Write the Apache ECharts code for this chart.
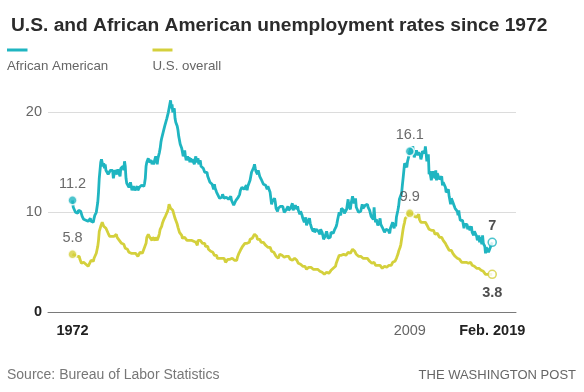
<!DOCTYPE html>
<html>
<head>
<meta charset="utf-8">
<script src="https://cdn.jsdelivr.net/npm/echarts@6/dist/echarts.min.js"></script>
<style>
html,body{margin:0;padding:0;background:#fff;}
#chart{width:584px;height:392px;}
</style>
</head>
<body>
<div id="chart"></div>
<script>
// Monthly unemployment rates, Jan 1972 .. Feb 2019 (index 0 = Jan 1972)
const africanAmerican = [
11.2,10.5,10.6,10.4,10.0,9.8,10.1,9.9,10.2,10.0,10.3,10.1, // 1972
10.2,9.6,9.4,9.3,9.4,9.1,9.2,9.0,9.3,9.1,9.0,9.2, // 1973
9.4,9.1,9.2,9.3,9.0,9.4,9.7,9.6,10.0,10.2,11.0,12.0, // 1974
13.4,14.2,15.0,15.3,15.1,14.6,14.9,14.4,14.8,14.2,14.4,14.0, // 1975
13.8,14.0,13.6,14.2,14.0,14.4,14.2,13.4,13.8,14.2,14.0,14.4, // 1976
13.8,14.3,14.0,14.1,13.6,14.4,14.6,14.3,14.6,14.2,15.1,14.6, // 1977
13.4,12.9,12.8,12.9,12.5,12.4,13.0,12.6,12.2,12.4,12.6,12.5, // 1978
12.2,12.4,12.3,12.6,12.2,12.0,12.5,12.6,12.4,12.7,12.6,12.8, // 1979
12.6,12.9,13.4,14.6,15.0,15.2,15.4,15.0,14.8,15.0,15.2,14.8, // 1980
15.1,14.8,15.0,14.9,15.6,15.2,14.8,15.4,15.6,16.0,16.4,17.0, // 1981
17.4,17.6,18.0,18.2,18.6,18.8,18.8,19.4,19.6,20.0,20.4,20.6, // 1982
21.2,20.4,20.8,20.0,20.2,20.4,19.4,19.0,19.2,18.6,18.2,17.6, // 1983
17.2,16.8,16.6,16.4,16.0,15.6,15.9,16.2,15.6,15.2,15.4,15.6, // 1984
15.2,15.5,15.0,15.4,15.0,15.3,15.1,15.4,14.8,15.3,15.6,15.0, // 1985
14.8,15.4,14.8,15.0,15.2,14.6,14.5,14.6,14.4,14.2,14.0,14.2, // 1986
13.8,14.0,13.6,13.5,13.7,13.0,12.9,13.2,12.8,12.6,12.3,12.8, // 1987
12.4,12.2,12.0,12.1,11.7,11.9,11.4,11.6,11.3,11.5,11.8,11.6, // 1988
11.4,11.2,11.3,11.5,11.4,11.6,11.3,11.1,11.5,11.6,11.2,11.4, // 1989
11.0,10.7,10.5,10.8,11.2,11.0,11.1,11.5,11.6,11.8,12.2,12.2, // 1990
12.5,12.3,12.6,12.3,12.5,12.4,12.7,12.2,12.6,12.4,12.8,13.2, // 1991
13.6,14.0,13.8,13.9,14.5,14.8,14.4,14.1,14.3,13.8,14.2,14.0, // 1992
13.6,13.4,13.3,13.2,13.4,12.8,13.0,12.6,12.7,12.5,12.3,12.6, // 1993
12.5,12.4,12.0,11.4,10.8,11.1,11.3,11.2,11.4,11.0,10.4,10.3, // 1994
10.1,10.4,10.5,10.2,10.6,10.5,10.4,10.6,10.7,10.0,9.8,9.9, // 1995
10.3,10.4,10.6,10.2,10.1,10.3,10.5,10.7,10.9,10.2,10.4,10.3, // 1996
10.7,10.5,10.3,10.6,10.2,10.4,9.8,10.1,10.0,9.7,9.4,9.5, // 1997
9.0,8.9,9.5,8.7,8.9,9.1,9.0,9.4,8.9,8.7,8.4,8.3, // 1998
8.1,8.4,8.0,8.1,8.3,8.1,8.2,8.1,7.9,7.8,8.3,8.2, // 1999
8.0,7.7,7.3,7.1,7.6,7.7,8.1,7.8,7.4,7.3,7.2,7.5, // 2000
8.0,7.8,8.2,7.9,7.9,8.3,8.3,8.6,8.9,9.3,9.5,10.0, // 2001
9.8,9.7,10.4,10.6,10.3,10.2,9.9,9.8,10.1,10.3,10.8,11.3, // 2002
10.6,10.4,10.3,10.9,10.8,11.6,11.2,10.9,11.1,11.4,10.5,10.3, // 2003
10.6,10.0,10.2,9.9,10.1,10.3,10.8,10.4,10.3,10.6,10.7,10.6, // 2004
10.6,10.8,10.5,10.4,10.2,10.3,9.6,9.6,9.5,9.3,10.5,9.4, // 2005
9.0,9.3,9.2,8.7,8.9,9.0,9.4,8.8,8.9,8.5,8.7,8.5, // 2006
8.0,8.2,8.3,8.4,8.3,8.2,8.1,7.9,8.4,8.6,8.5,9.0, // 2007
9.1,8.4,8.9,8.6,9.5,9.4,10.2,10.6,11.3,11.1,11.3,11.9, // 2008
12.7,13.4,13.4,14.9,14.9,14.7,14.5,15.1,15.4,15.7,16.1,16.2, // 2009
16.5,15.8,16.6,16.5,15.5,15.4,15.6,16.2,16.1,15.7,16.0,15.8, // 2010
15.7,15.3,15.6,16.1,16.2,16.2,15.9,16.6,15.9,15.1,15.5,15.8, // 2011
13.8,14.1,14.0,13.2,13.6,14.1,14.1,14.0,13.4,14.2,13.2,13.9, // 2012
13.8,13.7,13.3,13.2,13.5,13.6,12.7,13.0,13.1,13.0,12.5,12.0, // 2013
12.1,12.0,12.3,11.6,11.5,10.8,11.4,11.3,11.0,10.9,11.0,10.4, // 2014
10.3,10.4,10.1,9.7,10.2,9.6,9.2,9.4,9.2,9.2,9.3,8.4, // 2015
8.8,8.8,9.0,8.8,8.3,8.6,8.4,8.2,8.3,8.6,8.0,7.9, // 2016
7.7,8.1,8.0,7.9,7.6,7.2,7.4,7.7,7.0,7.5,7.3,6.8, // 2017
7.7,6.9,6.9,6.6,5.9,6.5,6.6,6.3,6.0,6.2,6.2,6.6, // 2018
6.8,7.0 // 2019
];
const usOverall = [
5.8,5.7,5.8,5.7,5.7,5.7,5.6,5.6,5.5,5.6,5.3,5.2, // 1972
4.9,5.0,4.9,5.0,4.9,4.9,4.8,4.8,4.8,4.6,4.8,4.9, // 1973
5.1,5.2,5.1,5.1,5.1,5.4,5.5,5.5,5.9,6.0,6.6,7.2, // 1974
8.1,8.1,8.6,8.8,9.0,8.8,8.6,8.4,8.4,8.4,8.3,8.2, // 1975
7.9,7.7,7.6,7.7,7.4,7.6,7.8,7.8,7.6,7.7,7.8,7.8, // 1976
7.5,7.6,7.4,7.2,7.0,7.2,6.9,7.0,6.8,6.8,6.8,6.4, // 1977
6.4,6.3,6.3,6.1,6.0,5.9,6.2,5.9,6.0,5.8,5.9,6.0, // 1978
5.9,5.9,5.8,5.8,5.6,5.7,5.7,6.0,5.9,6.0,5.9,6.0, // 1979
6.3,6.3,6.3,6.9,7.5,7.6,7.8,7.7,7.5,7.5,7.5,7.2, // 1980
7.5,7.4,7.4,7.2,7.5,7.5,7.2,7.4,7.6,7.9,8.3,8.5, // 1981
8.6,8.9,9.0,9.3,9.4,9.6,9.8,9.8,10.1,10.4,10.8,10.8, // 1982
10.4,10.4,10.3,10.2,10.1,10.1,9.4,9.5,9.2,8.8,8.5,8.3, // 1983
8.0,7.8,7.8,7.7,7.4,7.2,7.5,7.5,7.3,7.4,7.2,7.3, // 1984
7.3,7.2,7.2,7.3,7.2,7.4,7.4,7.1,7.1,7.1,7.0,7.0, // 1985
6.7,7.2,7.2,7.1,7.2,7.2,7.0,6.9,7.0,7.0,6.9,6.6, // 1986
6.6,6.6,6.6,6.3,6.3,6.2,6.1,6.0,5.9,6.0,5.8,5.7, // 1987
5.7,5.7,5.7,5.4,5.6,5.4,5.4,5.6,5.4,5.4,5.3,5.3, // 1988
5.4,5.2,5.0,5.2,5.2,5.3,5.2,5.2,5.3,5.3,5.4,5.4, // 1989
5.4,5.3,5.2,5.4,5.4,5.2,5.5,5.7,5.9,5.9,6.2,6.3, // 1990
6.4,6.6,6.8,6.7,6.9,6.9,6.8,6.9,6.9,7.0,7.0,7.3, // 1991
7.3,7.4,7.4,7.4,7.6,7.8,7.7,7.6,7.6,7.3,7.4,7.4, // 1992
7.3,7.1,7.0,7.1,7.1,7.0,6.9,6.8,6.7,6.8,6.6,6.5, // 1993
6.6,6.6,6.5,6.4,6.1,6.1,6.1,6.0,5.9,5.8,5.6,5.5, // 1994
5.6,5.4,5.4,5.8,5.6,5.6,5.7,5.7,5.6,5.5,5.6,5.6, // 1995
5.6,5.5,5.5,5.6,5.6,5.3,5.5,5.1,5.2,5.2,5.4,5.4, // 1996
5.3,5.2,5.2,5.1,4.9,5.0,4.9,4.8,4.9,4.7,4.6,4.7, // 1997
4.6,4.6,4.7,4.3,4.4,4.5,4.5,4.5,4.6,4.5,4.4,4.4, // 1998
4.3,4.4,4.2,4.3,4.2,4.3,4.3,4.2,4.2,4.1,4.1,4.0, // 1999
4.0,4.1,4.0,3.8,4.0,4.0,4.0,4.1,3.9,3.9,3.9,3.9, // 2000
4.2,4.2,4.3,4.4,4.3,4.5,4.6,4.9,5.0,5.3,5.5,5.7, // 2001
5.7,5.7,5.7,5.9,5.8,5.8,5.8,5.7,5.7,5.7,5.9,6.0, // 2002
5.8,5.9,5.9,6.0,6.1,6.3,6.2,6.1,6.1,6.0,5.8,5.7, // 2003
5.7,5.6,5.8,5.6,5.6,5.6,5.5,5.4,5.4,5.5,5.4,5.4, // 2004
5.3,5.4,5.2,5.2,5.1,5.0,5.0,4.9,5.0,5.0,5.0,4.9, // 2005
4.7,4.8,4.7,4.7,4.6,4.6,4.7,4.7,4.5,4.4,4.5,4.4, // 2006
4.6,4.5,4.4,4.5,4.4,4.6,4.7,4.6,4.7,4.7,4.7,5.0, // 2007
5.0,4.9,5.1,5.0,5.4,5.6,5.8,6.1,6.1,6.5,6.8,7.3, // 2008
7.8,8.3,8.7,9.0,9.4,9.5,9.5,9.6,9.8,10.0,9.9,9.9, // 2009
9.8,9.8,9.9,9.9,9.6,9.4,9.4,9.5,9.5,9.4,9.8,9.3, // 2010
9.1,9.0,9.0,9.1,9.0,9.1,9.0,9.0,9.0,8.8,8.6,8.5, // 2011
8.3,8.3,8.2,8.2,8.2,8.2,8.2,8.0,7.8,7.8,7.7,7.9, // 2012
8.0,7.7,7.5,7.6,7.5,7.5,7.3,7.2,7.2,7.2,6.9,6.7, // 2013
6.6,6.7,6.7,6.2,6.3,6.1,6.2,6.1,5.9,5.7,5.8,5.6, // 2014
5.7,5.5,5.4,5.4,5.6,5.3,5.2,5.1,5.0,5.0,5.1,5.0, // 2015
4.8,4.9,5.0,5.1,4.8,4.9,4.8,4.9,5.0,4.9,4.7,4.7, // 2016
4.7,4.6,4.4,4.4,4.4,4.3,4.3,4.4,4.3,4.2,4.2,4.1, // 2017
4.1,4.1,4.0,4.0,3.8,4.0,3.8,3.8,3.7,3.8,3.8,3.9, // 2018
4.0,3.8 // 2019
];
// x tick positions (month index) and their labels
const tickMonths = [0, 454, 565];
const tickLabels = ['1972', '2009', 'Feb. 2019'];
const tickBold = [true, false, true];
// highlighted points (month index) and labels
const filledMonths = [0, 454];
const endMonth = 565;
const aaLabels = ['11.2', '16.1'];
const usLabels = ['5.8', '9.9'];
const aaEndLabel = '7';
const usEndLabel = '3.8';

const TEAL = '#1fb5c1';
const YELLOW = '#d4d03c';
const FONT = '"Liberation Sans", Arial, sans-serif';

const aaData = africanAmerican.map((v, i) => [i, v]);
const usData = usOverall.map((v, i) => [i, v]);

const chart = echarts.init(document.getElementById('chart'), null, {renderer: 'canvas'});

function dotLabel(pos, dist, bold) {
  return {
    show: true, position: pos, distance: dist,
    fontFamily: FONT, fontSize: 14.5,
    fontWeight: bold ? 'bold' : 'normal',
    color: bold ? '#222' : '#444'
  };
}

const option = {
  animation: false,
  backgroundColor: '#fff',
  title: {
    text: 'U.S. and African American unemployment rates since 1972',
    left: 6, top: 8.5,
    textStyle: {fontFamily: FONT, fontSize: 19.2, fontWeight: 'bold', color: '#2b2b2b', lineHeight: 24}
  },
  grid: {left: 48, right: 68, top: 112.3, bottom: 79.7, containLabel: false},
  xAxis: {
    type: 'value', min: -33, max: 597,
    splitLine: {show: false},
    axisTick: {show: false},
    axisLine: {show: true, lineStyle: {color: '#7a7a7a', width: 1}},
    axisLabel: {
      customValues: tickMonths,
      margin: 11,
      formatter: function (v) {
        const k = tickMonths.indexOf(Math.round(v));
        if (k < 0) return '';
        return (tickBold[k] ? '{b|' : '{r|') + tickLabels[k] + '}';
      },
      rich: {
        b: {fontFamily: FONT, fontSize: 14.5, fontWeight: 'bold', color: '#222'},
        r: {fontFamily: FONT, fontSize: 14.5, color: '#666'}
      }
    }
  },
  yAxis: {
    type: 'value', min: 0, max: 20, interval: 10,
    axisLine: {show: false}, axisTick: {show: false},
    splitLine: {show: true, lineStyle: {color: '#dcdcdc', width: 1}},
    axisLabel: {
      margin: 6,
      formatter: function (v) { return v === 0 ? '{b|0}' : '{r|' + v + '}'; },
      rich: {
        b: {fontFamily: FONT, fontSize: 14.5, fontWeight: 'bold', color: '#222'},
        r: {fontFamily: FONT, fontSize: 14.5, color: '#666'}
      }
    }
  },
  series: [
    {
      name: 'U.S. overall', type: 'line', data: usData, showSymbol: false, clip: false,
      lineStyle: {color: YELLOW, width: 2.8}, itemStyle: {color: YELLOW}, z: 2
    },
    {
      name: 'African American', type: 'line', data: aaData, showSymbol: false, clip: false,
      lineStyle: {color: TEAL, width: 2.8}, itemStyle: {color: TEAL}, z: 3
    },
    {
      type: 'scatter', clip: false, z: 5, symbolSize: 9,
      itemStyle: {color: TEAL, borderColor: '#fff', borderWidth: 1.6},
      data: filledMonths.map((m, k) => ({value: [m, africanAmerican[m]], label: Object.assign(dotLabel('top', 3.5, false), {formatter: aaLabels[k]})}))
    },
    {
      type: 'scatter', clip: false, z: 5, symbolSize: 9,
      itemStyle: {color: YELLOW, borderColor: '#fff', borderWidth: 1.6},
      data: filledMonths.map((m, k) => ({value: [m, usOverall[m]], label: Object.assign(dotLabel('top', 3.5, false), {formatter: usLabels[k]})}))
    },
    {
      type: 'scatter', clip: false, z: 5, symbolSize: 8,
      itemStyle: {color: '#fff', borderColor: TEAL, borderWidth: 1.6},
      data: [{value: [endMonth, africanAmerican[endMonth]], label: Object.assign(dotLabel('top', 4, true), {formatter: aaEndLabel})}]
    },
    {
      type: 'scatter', clip: false, z: 5, symbolSize: 8,
      itemStyle: {color: '#fff', borderColor: YELLOW, borderWidth: 1.6},
      data: [{value: [endMonth, usOverall[endMonth]], label: Object.assign(dotLabel('bottom', 6, true), {formatter: usEndLabel})}]
    }
  ],
  graphic: [
    {type: 'rect', left: 7, top: 48.5, shape: {width: 20.5, height: 3}, style: {fill: TEAL}},
    {type: 'text', left: 7, top: 59.5, style: {text: 'African American', fill: '#666', fontFamily: FONT, fontSize: 13.3}},
    {type: 'rect', left: 152.5, top: 48.5, shape: {width: 20, height: 3}, style: {fill: YELLOW}},
    {type: 'text', left: 152.5, top: 59.5, style: {text: 'U.S. overall', fill: '#666', fontFamily: FONT, fontSize: 13.3}},
    {type: 'text', left: 7, top: 368, style: {text: 'Source: Bureau of Labor Statistics', fill: '#777', fontFamily: FONT, fontSize: 14}},
    {type: 'text', right: 8, top: 368.5, style: {text: 'THE WASHINGTON POST', fill: '#666', fontFamily: FONT, fontSize: 13}}
  ]
};
chart.setOption(option);
</script>
</body>
</html>
